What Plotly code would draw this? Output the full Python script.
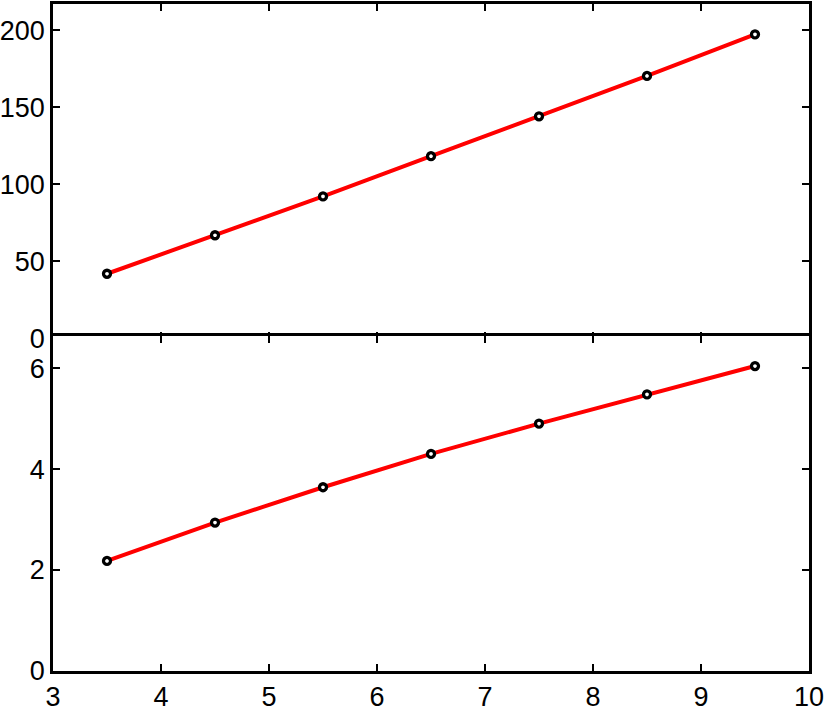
import plotly.graph_objects as go
from plotly.subplots import make_subplots

x_vals = [3.5, 4.5, 5.5, 6.5, 7.5, 8.5, 9.5]
top_vals = [41.9, 66.9, 92.1, 118.2, 144.1, 170.3, 197.3]
bottom_vals = [2.18, 2.94, 3.64, 4.30, 4.90, 5.48, 6.04]

x_ticks = [3, 4, 5, 6, 7, 8, 9, 10]
top_ticks = [0, 50, 100, 150, 200]
bottom_ticks = [0, 2, 4, 6]

fig = make_subplots(rows=2, cols=1, shared_xaxes=True, vertical_spacing=0)

for row, yv in ((1, top_vals), (2, bottom_vals)):
    fig.add_trace(go.Scatter(x=x_vals, y=yv, mode="lines",
                             line=dict(color="#ff0000", width=4),
                             showlegend=False, hoverinfo="skip"), row=row, col=1)
    fig.add_trace(go.Scatter(x=x_vals, y=yv, mode="markers",
                             marker=dict(symbol="circle", size=7, color="white",
                                         line=dict(color="black", width=3.3)),
                             showlegend=False), row=row, col=1)

axis_common = dict(showline=True, linecolor="black", linewidth=2.5, mirror="ticks",
                   ticks="inside", ticklen=7, tickwidth=2, tickcolor="black",
                   showgrid=False, zeroline=False, automargin=False,
                   tickfont=dict(family="Liberation Sans, Arial, sans-serif", size=27, color="black"))

fig.update_xaxes(**axis_common, range=[3, 10], tickvals=x_ticks)
fig.update_xaxes(showticklabels=False, row=1, col=1)
fig.update_xaxes(ticktext=[str(t) for t in x_ticks], row=2, col=1)

fig.update_yaxes(**axis_common)
fig.update_yaxes(range=[0, 217], tickvals=top_ticks, ticktext=[str(t) for t in top_ticks],
                 domain=[0.4988, 1.0], row=1, col=1)
fig.update_yaxes(range=[0, 6.64], tickvals=bottom_ticks, ticktext=[str(t) for t in bottom_ticks],
                 domain=[0.0, 0.5026], row=2, col=1)

fig.update_layout(width=830, height=714, margin=dict(l=53, r=21, t=4, b=43),
                  plot_bgcolor="white", paper_bgcolor="white")

fig.write_html("out.html", config={"displayModeBar": False},
               post_script="document.body.style.margin='0';document.body.style.overflow='hidden';")
